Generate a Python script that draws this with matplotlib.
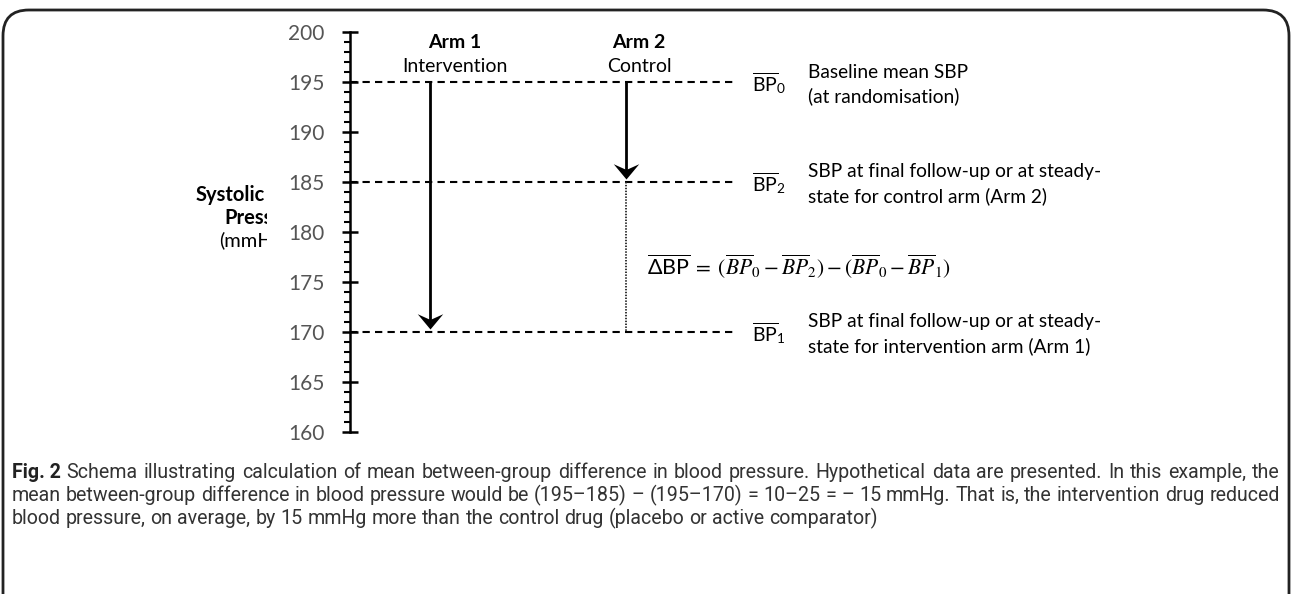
import matplotlib
matplotlib.use("Agg")
import matplotlib.pyplot as plt
from matplotlib.path import Path
from matplotlib.patches import FancyBboxPatch, Rectangle
import numpy as np

# ---- data ----
y_min, y_max = 160, 200
major_ticks = [160, 165, 170, 175, 180, 185, 190, 195, 200]
bp0 = 195          # baseline mean SBP
bp2 = 185          # control arm follow-up
bp1 = 170          # intervention arm follow-up
arm_titles = ["Arm 1", "Arm 2"]
arm_subtitles = ["Intervention", "Control"]
arm_start = [bp0, bp0]
arm_end = [bp1, bp2]
level_values = [bp0, bp2, bp1]
level_labels = [r"$\overline{\mathrm{BP}}_0$", r"$\overline{\mathrm{BP}}_2$", r"$\overline{\mathrm{BP}}_1$"]
level_desc = [["Baseline mean SBP", "(at randomisation)"],
              ["SBP at final follow-up or at steady-", "state for control arm (Arm 2)"],
              ["SBP at final follow-up or at steady-", "state for intervention arm (Arm 1)"]]
caption_lines = [
    "Fig. 2 Schema illustrating calculation of mean between-group difference in blood pressure. Hypothetical data are presented. In this example, the",
    "mean between-group difference in blood pressure would be (195\u2013185) \u2013 (195\u2013170) = 10\u201325 = \u2013 15 mmHg. That is, the intervention drug reduced",
    "blood pressure, on average, by 15 mmHg more than the control drug (placebo or active comparator)",
]

W, H = 1292, 594
DPI = 100
plt.rcParams["font.family"] = ["Lato", "DejaVu Sans"]
plt.rcParams["mathtext.fontset"] = "custom"
plt.rcParams["mathtext.rm"] = "Lato"
plt.rcParams["mathtext.it"] = "Lato:italic"
plt.rcParams["mathtext.bf"] = "Lato:bold"

fig = plt.figure(figsize=(W / DPI, H / DPI), dpi=DPI)

def fx(px):
    return px / W

def fy(py):
    return 1 - py / H

# axes: x in pixel units, y in mmHg
ax_left_px, ax_right_px = 350, 1292
ax_top_px, ax_bot_px = 32, 432
ax = fig.add_axes([fx(ax_left_px), fy(ax_bot_px), fx(ax_right_px - ax_left_px), (ax_bot_px - ax_top_px) / H])
ax.set_xlim(ax_left_px, ax_right_px)
ax.set_ylim(y_min, y_max)
ax.patch.set_visible(False)
for s in ["top", "right", "bottom"]:
    ax.spines[s].set_visible(False)
ax.spines["left"].set_linewidth(1.8)
ax.spines["left"].set_bounds(y_min, y_max)
ax.set_xticks([])
ax.set_yticks(major_ticks)
ax.set_yticks(np.arange(y_min, y_max + 1, 1), minor=True)
ax.tick_params(axis="y", which="major", direction="inout", length=11, width=1.8,
               labelsize=15, labelcolor="#555555", pad=13)
ax.tick_params(axis="y", which="minor", direction="out", length=4, width=1.5)

arm_x = [430, 626]
dash_end = 735

# dashed reference lines
for v in level_values:
    ax.plot([ax_left_px, dash_end], [v, v], color="black", lw=1.5,
            linestyle=(0, (3.5, 2.5)), clip_on=False)

# arrowhead marker (notched, pointing down, tip at origin)
head = Path([(0, 0), (-1, 1.2), (0, 0.75), (1, 1.2), (0, 0)],
            [Path.MOVETO, Path.LINETO, Path.LINETO, Path.LINETO, Path.CLOSEPOLY])

for x, ys, ye in zip(arm_x, arm_start, arm_end):
    ax.plot([x, x], [ys, ye + 0.8], color="black", lw=2.0, solid_capstyle="butt")
    ax.plot([x], [ye + 0.3], marker=head, markersize=22, color="black", mew=0)

# dotted difference line on control arm
ax.plot([arm_x[1], arm_x[1]], [bp2, bp1], color="#222222", lw=1.3, linestyle=(0, (0.8, 0.8)))

# arm titles
title_x = [455, 639]
for tx, t, st in zip(title_x, arm_titles, arm_subtitles):
    fig.text(fx(tx), fy(42), t, ha="center", va="center", fontsize=14, fontweight="bold")
    fig.text(fx(tx), fy(66), st, ha="center", va="center", fontsize=14)

# level labels and descriptions
for v, lab, desc in zip(level_values, level_labels, level_desc):
    ax.text(752, v - 0.1, lab, ha="left", va="center", fontsize=14)
    ax.text(808, v + 1.0, desc[0], ha="left", va="center", fontsize=13.8)
    ax.text(808, v - 1.45, desc[1], ha="left", va="center", fontsize=13.8)

# formula
plt.rcParams["mathtext.fontset"] = "stix"
ax.text(647, 176.5,
        r"$\overline{\mathregular{\Delta BP}}\;=\;(\overline{BP}_0 - \overline{BP}_2) - (\overline{BP}_0 - \overline{BP}_1)$",
        ha="left", va="center", fontsize=15.5)

# y label (clipped as in original)
clip = Rectangle((0, 0), fx(267), 1, transform=fig.transFigure, visible=False)
fig.add_artist(clip)
fig.text(fx(196), fy(195), "Systolic", ha="left", va="center", fontsize=14.5, fontweight="bold")
t2 = fig.text(fx(224), fy(218), "Pressure", ha="left", va="center", fontsize=14.5, fontweight="bold")
t3 = fig.text(fx(219), fy(241), "(mmHg)", ha="left", va="center", fontsize=14.5)
t2.set_clip_path(clip)
t3.set_clip_path(clip)

# frame
frame = FancyBboxPatch((fx(3), fy(640)), fx(1286), (640 - 10) / H,
                       boxstyle="round,pad=0,rounding_size=0.02",
                       transform=fig.transFigure, fill=False, lw=2.0,
                       edgecolor="#222222", mutation_aspect=W / H)
fig.add_artist(frame)

# caption: justified lines (except last), font size fitted to the widest line
cap_baseline = [478, 501, 524]
cap_font = ["Roboto", "DejaVu Sans"]
cap_left, cap_right = 12, 1280
fs0 = 12.0
fig.canvas.draw()
r = fig.canvas.get_renderer()

def measure(s, size, bold=False):
    t = fig.text(0, 0, s, fontsize=size, family=cap_font,
                 fontweight="bold" if bold else "normal")
    w = t.get_window_extent(r).width
    t.remove()
    return w

def split_words(i, line):
    words = line.split(" ")
    bold = [False] * len(words)
    if i == 0:
        words = ["Fig. 2"] + words[2:]
        bold = [True] + [False] * (len(words) - 1)
    return words, bold

space0 = measure("a a", fs0) - measure("aa", fs0)
needed = []
for i, line in enumerate(caption_lines):
    words, bold = split_words(i, line)
    needed.append(sum(measure(w, fs0, b) for w, b in zip(words, bold)) + space0 * (len(words) - 1))
fs = fs0 * (cap_right - cap_left) / max(needed) * 0.995

for i, (yy, line) in enumerate(zip(cap_baseline, caption_lines)):
    words, bold = split_words(i, line)
    widths = [measure(w, fs, b) for w, b in zip(words, bold)]
    if i < len(caption_lines) - 1:
        gap = (cap_right - cap_left - sum(widths)) / (len(words) - 1)
    else:
        gap = space0 * fs / fs0
    x = cap_left
    for w, b, wd in zip(words, bold, widths):
        fig.text(fx(x), fy(yy), w, ha="left", va="baseline", fontsize=fs,
                 family=cap_font, fontweight="bold" if b else "normal",
                 color="#222222" if b else "#333333")
        x += wd + gap

fig.savefig("out.png", dpi=DPI)
